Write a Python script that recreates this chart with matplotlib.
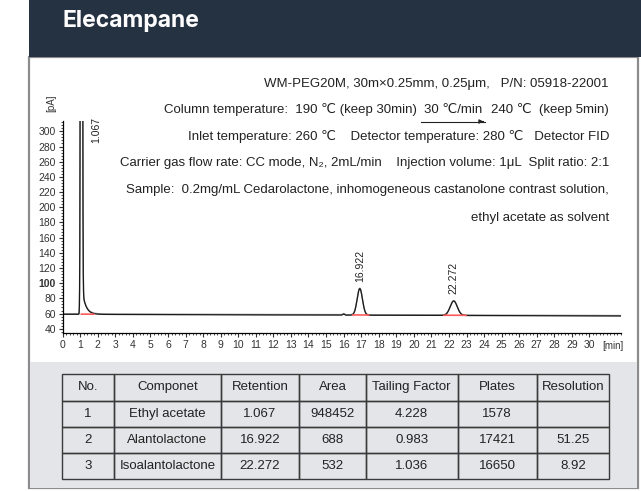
import numpy as np
import matplotlib
matplotlib.use("Agg")
import matplotlib.pyplot as plt
from matplotlib.patches import Rectangle, FancyArrowPatch
from matplotlib.ticker import MultipleLocator, FixedLocator

NARROW = ["Liberation Sans Narrow", "Liberation Sans", "DejaVu Sans"]
REGULAR = ["Liberation Sans", "DejaVu Sans"]

# peak table
peak_no = ["1", "2", "3"]
components = ["Ethyl acetate", "Alantolactone", "Isoalantolactone"]
retention = [1.067, 16.922, 22.272]
area = ["948452", "688", "532"]
tailing = ["4.228", "0.983", "1.036"]
plates = ["1578", "17421", "16650"]
resolution = ["", "51.25", "8.92"]
headers = ["No.", "Componet", "Retention", "Area", "Tailing Factor", "Plates", "Resolution"]

# trace shape: height above baseline [pA], peak width [min]
peak_height = [3000, 35, 19]
peak_sigma = [0.035, 0.15, 0.20]
solvent_tail_amp = 40
solvent_tail_tau = 0.2
blip_rt, blip_height, blip_sigma = 16.0, 1.5, 0.05
baseline_start, baseline_end = 59.0, 56.8
run_end = 31.8
# integration marks (min before / after apex)
integ_before = [0.0, 0.4, 0.55]
integ_after = [0.7, 0.5, 0.7]

W, H = 641, 491
fig = plt.figure(figsize=(W / 100, H / 100), dpi=100)


def fx(px):
    return px / W


def fy(py):
    return 1 - py / H


def box(x0, y0, x1, y1, **kw):
    fig.add_artist(Rectangle((fx(x0), fy(y1)), fx(x1) - fx(x0), fy(y0) - fy(y1),
                             transform=fig.transFigure, zorder=-5, **kw))


# card, header and table panel
box(29, 57, 637.5, 488, facecolor="white", edgecolor="#8c8c8c", lw=1.6)
box(29, 0, 641, 57, facecolor="#253242", edgecolor="none")
box(30, 362, 637, 487.5, facecolor="#e3e5e9", edgecolor="none")
fig.text(fx(62), fy(21), "Elecampane", color="white", fontsize=16.5,
         fontweight="bold", family=["Inter", "Lato", "DejaVu Sans"], va="center", ha="left")

# chromatogram
ax = fig.add_axes([fx(62.7), fy(333.3), fx(621) - fx(62.7), fy(120.7) - fy(333.3)])
t = np.linspace(0, run_end, 8000)
signal = baseline_start + (baseline_end - baseline_start) * t / run_end
for rt, h, s in zip(retention, peak_height, peak_sigma):
    signal = signal + h * np.exp(-0.5 * ((t - rt) / s) ** 2)
dt = np.clip(t - retention[0], 0, None)
signal = signal + solvent_tail_amp * np.exp(-dt / solvent_tail_tau) * (1 - np.exp(-dt / 0.02))
signal = signal + blip_height * np.exp(-0.5 * ((t - blip_rt) / blip_sigma) ** 2)

ax.plot(t, signal + 0.6, color="#9a9a9a", lw=1.0)
ax.plot(t, signal, color="#1a1a1a", lw=0.9)

for rt, b, a in zip(retention, integ_before, integ_after):
    x0, x1 = rt - b, rt + a
    base = baseline_start + (baseline_end - baseline_start) * np.array([x0, x1]) / run_end
    ax.plot([x0, x1], base + 0.3, color="#ff5a5a", lw=1.2)

# retention time labels
apex = [baseline_start + (baseline_end - baseline_start) * rt / run_end + h
        for rt, h in zip(retention, peak_height)]
ax.text(retention[0] + 0.85, 284, f"{retention[0]:.3f}", rotation=90, ha="center", va="bottom",
        fontsize=7.5, family=NARROW, color="#222")
for rt, y in zip(retention[1:], apex[1:]):
    ax.text(rt, y + 9, f"{rt:.3f}", rotation=90, ha="center", va="bottom",
            fontsize=7.5, family=NARROW, color="#222")

ax.set_xlim(0, run_end)
ax.set_ylim(34, 314)
ax.xaxis.set_major_locator(FixedLocator(np.arange(0, 31)))
ax.xaxis.set_minor_locator(MultipleLocator(0.2))
ax.yaxis.set_major_locator(FixedLocator(np.arange(40, 301, 20)))
ax.yaxis.set_minor_locator(MultipleLocator(4))
ax.tick_params(which="major", direction="out", length=3, width=0.8, labelsize=7.5,
               colors="#333", pad=2)
ax.tick_params(which="minor", direction="out", length=1.5, width=0.6, colors="#333")
for lab in ax.get_xticklabels() + ax.get_yticklabels():
    lab.set_family(NARROW)
for lab in ax.get_yticklabels():
    if lab.get_text() == "100":
        lab.set_fontweight("bold")
for side in ("top", "right"):
    ax.spines[side].set_visible(False)
for side in ("left", "bottom"):
    ax.spines[side].set_linewidth(0.9)
ax.patch.set_alpha(0)

fig.text(fx(51), fy(103), "[pA]", rotation=90, fontsize=7, family=NARROW,
         ha="center", va="center", color="#333")
fig.text(fx(613), fy(346), "[min]", fontsize=7, family=NARROW,
         ha="center", va="center", color="#333")

# method conditions
cond_kw = dict(fontsize=9.5, family=NARROW, color="#222", ha="right", va="center")
right = fx(609)
cond_lines = [
    (84, "WM-PEG20M, 30m×0.25mm, 0.25μm,   P/N: 05918-22001"),
    (136.5, "Inlet temperature: 260 ℃    Detector temperature: 280 ℃   Detector FID"),
    (163, "Carrier gas flow rate: CC mode, N₂, 2mL/min    Injection volume: 1μL  Split ratio: 2:1"),
    (189.5, "Sample:  0.2mg/mL Cedarolactone, inhomogeneous castanolone contrast solution,"),
    (217.5, "ethyl acetate as solvent"),
]
for y, s in cond_lines:
    fig.text(right, fy(y), s, **cond_kw)

# column temperature line with the ramp arrow under the rate
renderer = fig.canvas.get_renderer()
inv = fig.transFigure.inverted()
y2 = fy(110)
part_c = fig.text(right, y2, "240 ℃  (keep 5min)", **cond_kw)
left_c = inv.transform(part_c.get_window_extent(renderer))[0][0]
part_b = fig.text(left_c - fx(9), y2, "30 ℃/min", **cond_kw)
bb_b = inv.transform(part_b.get_window_extent(renderer))
part_a = fig.text(bb_b[0][0] - fx(7), y2, "Column temperature:  190 ℃ (keep 30min)", **cond_kw)
fig.add_artist(plt.Line2D([bb_b[0][0] - fx(3), bb_b[1][0] + fx(3)], [fy(121.5)] * 2,
                          transform=fig.transFigure, color="#222", lw=0.8))
fig.add_artist(FancyArrowPatch(
    (bb_b[1][0] - fx(2), fy(121.5)), (bb_b[1][0] + fx(4), fy(121.5)),
    transform=fig.transFigure, arrowstyle="-|>", mutation_scale=6, color="#222", lw=0.8))

# results table
col_edges = np.array([61.7, 114.3, 220.7, 299.3, 365.7, 457.7, 536.7, 609.3])
widths = np.diff(col_edges) / (col_edges[-1] - col_edges[0])
tax = fig.add_axes([fx(61.7), fy(479.3), fx(609.3) - fx(61.7), fy(374.3) - fy(479.3)])
tax.axis("off")
rows = [list(r) for r in zip(peak_no, components, [f"{v:.3f}" for v in retention],
                             area, tailing, plates, resolution)]
tbl = tax.table(cellText=rows, colLabels=headers, colWidths=list(widths),
                cellLoc="center", bbox=[0, 0, 1, 1])
tbl.auto_set_font_size(False)
for cell in tbl.get_celld().values():
    cell.set_edgecolor("#3a3a3a")
    cell.set_linewidth(1.0)
    cell.set_facecolor("none")
    cell.get_text().set_fontsize(9.5)
    cell.get_text().set_family(REGULAR)
    cell.get_text().set_color("#222")

fig.savefig("out.png", dpi=100)
